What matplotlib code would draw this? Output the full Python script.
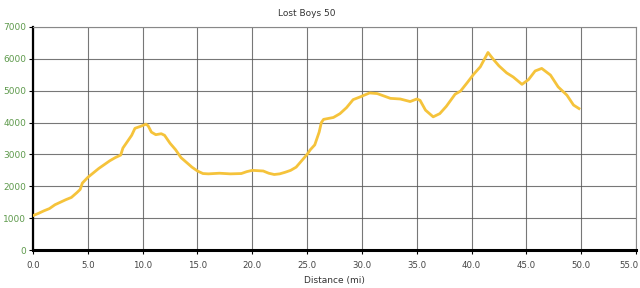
import matplotlib
matplotlib.use('Agg')
import matplotlib.pyplot as plt
from matplotlib.transforms import ScaledTranslation

# Elevation profile (distance in mi, elevation in ft)
distance = [0.0, 0.5, 1.0, 1.5, 2.0, 2.5, 3.0, 3.5, 4.0, 4.3, 4.5, 5.0, 5.5, 6.0,
            6.5, 7.0, 7.5, 8.0, 8.2, 8.6, 9.0, 9.3, 9.8, 10.3, 10.5, 10.8, 11.2,
            11.7, 12.0, 12.5, 13.0, 13.5, 14.0, 14.5, 15.0, 15.5, 16.0, 17.0,
            18.0, 19.0, 19.5, 20.0, 20.5, 21.0, 21.5, 22.0, 22.5, 23.0, 23.5,
            24.0, 24.5, 25.0, 25.3, 25.7, 26.0, 26.1, 26.3, 26.5, 27.4, 28.0,
            28.6, 29.2, 29.8, 30.7, 31.4, 32.6, 33.5, 34.4, 35.0, 35.3, 35.8,
            36.5, 37.1, 37.7, 38.5, 39.0, 39.6, 40.2, 40.8, 41.5, 42.0, 42.5,
            43.2, 43.8, 44.6, 45.2, 45.8, 46.4, 47.2, 47.9, 48.7, 49.3, 49.8]
elevation = [1080, 1150, 1230, 1300, 1420, 1500, 1580, 1650, 1800, 1900, 2100,
             2280, 2420, 2560, 2680, 2800, 2900, 2980, 3200, 3400, 3600, 3820,
             3880, 3950, 3900, 3700, 3620, 3650, 3600, 3350, 3150, 2900, 2750,
             2600, 2480, 2400, 2390, 2410, 2390, 2400, 2460, 2500, 2490, 2480,
             2410, 2370, 2390, 2440, 2500, 2600, 2800, 3000, 3150, 3300, 3600,
             3700, 4000, 4100, 4160, 4280, 4470, 4720, 4800, 4930, 4910, 4760,
             4740, 4660, 4740, 4700, 4390, 4180, 4280, 4510, 4890, 4990, 5250,
             5520, 5750, 6200, 5980, 5780, 5560, 5430, 5200, 5350, 5620, 5700,
             5490, 5120, 4860, 4550, 4440]

x_ticks = [0, 5, 10, 15, 20, 25, 30, 35, 40, 45, 50, 55]
y_ticks = [0, 1000, 2000, 3000, 4000, 5000, 6000, 7000]

fig = plt.figure(figsize=(6.4, 2.88), dpi=100)
ax = fig.add_axes([33/640, 1 - 250/288, (636 - 33)/640, (250 - 27)/288])

ax.plot(distance, elevation, color='#f5c33b', linewidth=2.0, zorder=3)

ax.set_xlim(0, 55)
ax.set_ylim(0, 7000)
ax.set_xticks(x_ticks)
ax.set_xticklabels([f'{t:.1f}' for t in x_ticks])
ax.set_yticks(y_ticks)

ax.grid(True, color='#555555', linewidth=0.8, alpha=0.8)
ax.set_axisbelow(True)

for side in ['top', 'right']:
    ax.spines[side].set_color('#888888')
    ax.spines[side].set_linewidth(0.8)
ax.spines['left'].set_color('black')
ax.spines['left'].set_linewidth(1.6)
ax.spines['bottom'].set_color('black')
ax.spines['bottom'].set_linewidth(2.2)

ax.tick_params(axis='y', labelsize=6.5, labelcolor='#5e9a4c', length=3, width=0.8, pad=2)
ax.tick_params(axis='x', labelsize=6.2, labelcolor='#444444', length=3, width=0.8, pad=5)

# keep the last x label inside the figure edge
last = ax.get_xticklabels()[-1]
last.set_ha('right')
last.set_transform(last.get_transform() + ScaledTranslation(3/100, 0, fig.dpi_scale_trans))

fig.text(307/640, 1 - 14/288, 'Lost Boys 50', fontsize=6.5, color='#333333',
         ha='center', va='center')
ax.set_xlabel('Distance (mi)', fontsize=6.5, color='#333333', labelpad=4)

fig.savefig('out.png', dpi=100)
